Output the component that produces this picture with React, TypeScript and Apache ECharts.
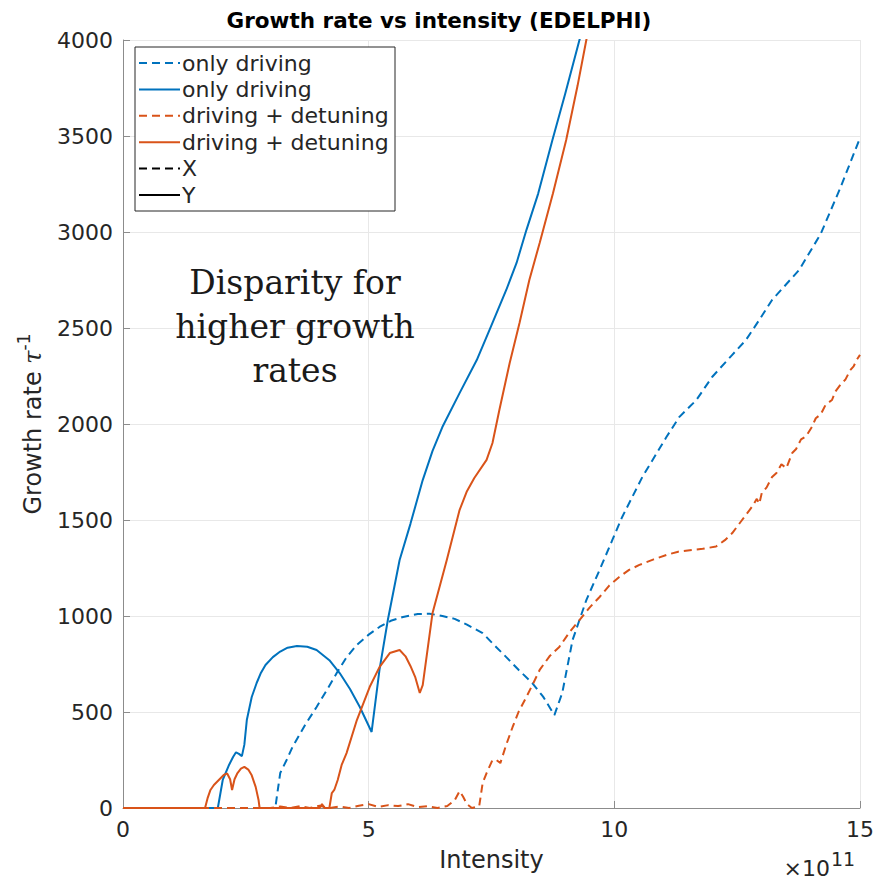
import React, { useEffect, useRef } from "react";
import * as echarts from "echarts";

const xTicks = [0, 5, 10, 15];
const yTicks = [0, 500, 1000, 1500, 2000, 2500, 3000, 3500, 4000];

// only driving, X (dashed blue)
const onlyDrivingX: [number, number][] = [
  [0, 0], [3.1, 0], [3.13, 57], [3.2, 182], [3.33, 250], [3.45, 318], [3.7, 430], [3.94, 526],
  [4.15, 615], [4.35, 703], [4.55, 785], [4.76, 850], [5.0, 903], [5.22, 943], [5.45, 975],
  [5.7, 995], [6.0, 1010], [6.24, 1012], [6.5, 1000], [6.75, 985], [7.0, 955], [7.32, 911],
  [7.55, 850], [7.8, 786], [8.05, 720], [8.33, 651], [8.55, 580], [8.78, 484], [8.94, 599],
  [9.15, 875], [9.43, 1083], [9.7, 1240], [9.96, 1396], [10.16, 1516], [10.57, 1724],
  [11.06, 1932], [11.32, 2036], [11.67, 2125], [11.99, 2245], [12.4, 2360], [12.68, 2438],
  [12.95, 2542], [13.21, 2646], [13.76, 2802], [14.2, 2990], [14.6, 3230], [15, 3490],
];

// only driving, Y (solid blue)
const onlyDrivingY: [number, number][] = [
  [0, 0], [1.93, 0], [2.03, 146], [2.15, 220], [2.24, 266], [2.3, 290], [2.36, 282], [2.42, 270],
  [2.47, 330], [2.52, 458], [2.62, 578], [2.72, 651], [2.8, 700], [2.9, 745], [3.05, 786],
  [3.2, 815], [3.35, 835], [3.54, 844], [3.75, 840], [3.94, 823], [4.2, 770], [4.41, 703],
  [4.62, 620], [4.82, 526], [5.06, 396], [5.22, 719], [5.39, 979], [5.63, 1292], [5.85, 1480],
  [6.1, 1708], [6.3, 1860], [6.5, 1984], [6.85, 2161], [7.2, 2333], [7.46, 2490], [7.8, 2698],
  [8.01, 2839], [8.21, 3010], [8.45, 3200], [8.74, 3479], [9.0, 3720], [9.29, 4000], [9.38, 4080],
];

// driving + detuning, X (dashed orange)
const detuningX: [number, number][] = [
  [0, 0], [3.0, 0], [3.2, 8], [3.4, 0], [3.6, 10], [3.8, 0], [4.0, 12], [4.2, 0], [4.4, 8],
  [4.6, 0], [4.8, 12], [5.0, 20], [5.2, 5], [5.4, 15], [5.6, 10], [5.8, 20], [6.0, 5], [6.2, 10],
  [6.4, 0], [6.6, 10], [6.75, 40], [6.85, 88], [6.92, 60], [7.0, 20], [7.1, 0], [7.25, 10],
  [7.32, 130], [7.4, 182], [7.52, 250], [7.6, 250], [7.68, 234], [7.8, 330], [7.93, 422],
  [8.05, 500], [8.21, 578], [8.35, 650], [8.48, 719], [8.68, 790], [8.88, 839], [9.1, 920],
  [9.29, 979], [9.5, 1045], [9.7, 1099], [9.9, 1160], [10.1, 1203], [10.3, 1240], [10.51, 1266],
  [10.8, 1295], [11.06, 1318], [11.3, 1335], [11.59, 1344], [11.8, 1350], [12.07, 1362],
  [12.25, 1395], [12.4, 1432], [12.6, 1500], [12.8, 1568], [12.9, 1610], [12.95, 1585],
  [13.0, 1640], [13.1, 1670], [13.21, 1724], [13.3, 1745], [13.4, 1790], [13.5, 1770],
  [13.62, 1849], [13.7, 1870], [13.8, 1920], [13.9, 1935], [14.02, 1984], [14.1, 2030],
  [14.2, 2050], [14.3, 2100], [14.43, 2125], [14.5, 2170], [14.63, 2214], [14.7, 2230],
  [14.8, 2280], [14.87, 2300], [14.93, 2333], [15, 2360],
];

// driving + detuning, Y (solid orange)
const detuningY: [number, number][] = [
  [0, 0], [1.67, 0], [1.72, 50], [1.78, 94], [1.85, 120], [1.95, 146], [2.05, 172], [2.12, 180],
  [2.18, 150], [2.22, 94], [2.27, 150], [2.33, 182], [2.4, 205], [2.47, 214], [2.55, 200],
  [2.62, 170], [2.7, 110], [2.76, 40], [2.78, 0], [4.0, 0], [4.05, 20], [4.1, 0], [4.2, 0],
  [4.25, 78], [4.3, 94], [4.37, 146], [4.45, 224], [4.55, 286], [4.76, 458], [5.02, 630],
  [5.22, 734], [5.43, 807], [5.53, 815], [5.63, 823], [5.75, 790], [5.85, 740], [5.95, 680],
  [6.04, 599], [6.1, 640], [6.3, 1016], [6.59, 1292], [6.85, 1552], [7.0, 1650], [7.15, 1719],
  [7.4, 1813], [7.52, 1901], [7.66, 2073], [7.87, 2318], [8.07, 2526], [8.27, 2750],
  [8.48, 2943], [8.75, 3200], [9.02, 3479], [9.25, 3760], [9.43, 4000], [9.5, 4080],
];

const legendItems = [
  { label: "only driving", color: "#0072BD", dashed: true },
  { label: "only driving", color: "#0072BD", dashed: false },
  { label: "driving + detuning", color: "#D95319", dashed: true },
  { label: "driving + detuning", color: "#D95319", dashed: false },
  { label: "X", color: "#000000", dashed: true },
  { label: "Y", color: "#000000", dashed: false },
];

const annotationLines = ["Disparity for", "higher growth", "rates"];

const FONT = "DejaVu Sans";
const TXT = "#262626";

export default function App() {
  const ref = useRef<HTMLDivElement>(null);
  useEffect(() => {
    document.body.style.margin = "0";
    const chart = echarts.init(ref.current!, undefined, { renderer: "svg" });
    const dash = [8, 5];
    const mk = (name: string, data: [number, number][], color: string, dashed: boolean) => ({
      name,
      type: "line",
      data,
      symbol: "none",
      clip: true,
      lineStyle: { color, width: 2, type: dashed ? dash : "solid" },
      emphasis: { disabled: true },
    });

    const legendGraphics: any[] = [
      {
        type: "rect",
        shape: { x: 135, y: 47, width: 260, height: 164 },
        style: { fill: "#fff", stroke: "#262626", lineWidth: 1 },
        z: 100,
      },
    ];
    legendItems.forEach((it, i) => {
      const y = 63 + i * 26.4;
      legendGraphics.push({
        type: "line",
        shape: { x1: 139, y1: y, x2: 180, y2: y },
        style: { stroke: it.color, lineWidth: 2, lineDash: it.dashed ? [8, 5] : null },
        z: 101,
      });
      legendGraphics.push({
        type: "text",
        x: 182,
        y,
        style: {
          text: it.label,
          font: `22px "${FONT}"`,
          fill: TXT,
          textVerticalAlign: "middle",
          textAlign: "left",
        },
        z: 101,
      });
    });

    const annGraphics = annotationLines.map((t, i) => ({
      type: "text",
      x: 295,
      y: 282 + i * 44,
      style: {
        text: t,
        font: `33px "DejaVu Serif"`,
        fill: "#1a1a1a",
        textAlign: "center",
        textVerticalAlign: "middle",
      },
      z: 90,
    }));

    chart.setOption({
      animation: false,
      backgroundColor: "#ffffff",
      grid: { left: 123, top: 40, width: 738, height: 768, containLabel: false },
      xAxis: {
        type: "value",
        min: 0,
        max: 15,
        interval: 5,
        name: "Intensity",
        nameLocation: "middle",
        nameGap: 40,
        nameTextStyle: { fontFamily: FONT, fontSize: 24, color: TXT },
        axisLine: { show: true, onZero: false, lineStyle: { color: "#8c8c8c", width: 1 } },
        axisTick: { show: true, inside: true, length: 7, lineStyle: { color: "#8c8c8c" } },
        axisLabel: {
          fontFamily: FONT,
          fontSize: 22,
          color: TXT,
          margin: 10,
          formatter: (v: number) => (xTicks.includes(v) ? String(v) : ""),
        },
        splitLine: { show: true, lineStyle: { color: "#e8e8e8", width: 1 } },
      },
      yAxis: {
        type: "value",
        min: 0,
        max: 4000,
        interval: 500,
        name: "{a|Growth rate }{b|τ}{c|-1}",
        nameLocation: "middle",
        nameGap: 78,
        nameTextStyle: {
          fontFamily: FONT,
          fontSize: 24,
          color: TXT,
          rich: {
            a: { fontFamily: FONT, fontSize: 24, color: TXT, lineHeight: 30, verticalAlign: "bottom" },
            b: { fontFamily: "DejaVu Serif", fontStyle: "italic", fontSize: 24, color: TXT, lineHeight: 30, verticalAlign: "bottom" },
            c: { fontFamily: FONT, fontSize: 17, color: TXT, lineHeight: 30, verticalAlign: "top" },
          },
        },
        axisLine: { show: true, onZero: false, lineStyle: { color: "#8c8c8c", width: 1 } },
        axisTick: { show: true, inside: true, length: 7, lineStyle: { color: "#8c8c8c" } },
        axisLabel: {
          fontFamily: FONT,
          fontSize: 22,
          color: TXT,
          margin: 10,
          formatter: (v: number) => (yTicks.includes(v) ? String(v) : ""),
        },
        splitLine: { show: true, lineStyle: { color: "#e8e8e8", width: 1 } },
      },
      series: [
        mk("only driving X", onlyDrivingX, "#0072BD", true),
        mk("only driving Y", onlyDrivingY, "#0072BD", false),
        mk("driving + detuning X", detuningX, "#D95319", true),
        mk("driving + detuning Y", detuningY, "#D95319", false),
      ],
      graphic: [
        {
          type: "text",
          x: 439,
          y: 20,
          style: {
            text: "Growth rate vs intensity (EDELPHI)",
            font: `bold 21.5px "${FONT}"`,
            fill: "#000",
            textAlign: "center",
            textVerticalAlign: "middle",
          },
        },
        {
          type: "text",
          x: 830,
          y: 868,
          style: {
            text: "×10",
            font: `22px "${FONT}"`,
            fill: TXT,
            textAlign: "right",
            textVerticalAlign: "middle",
          },
        },
        {
          type: "text",
          x: 831,
          y: 859,
          style: {
            text: "11",
            font: `19px "${FONT}"`,
            fill: TXT,
            textAlign: "left",
            textVerticalAlign: "middle",
          },
        },
        ...annGraphics,
        ...legendGraphics,
      ],
    });
    return () => chart.dispose();
  }, []);
  return (
    <div
      ref={ref}
      style={{ position: "absolute", left: 0, top: 0, width: 877, height: 879 }}
    />
  );
}
